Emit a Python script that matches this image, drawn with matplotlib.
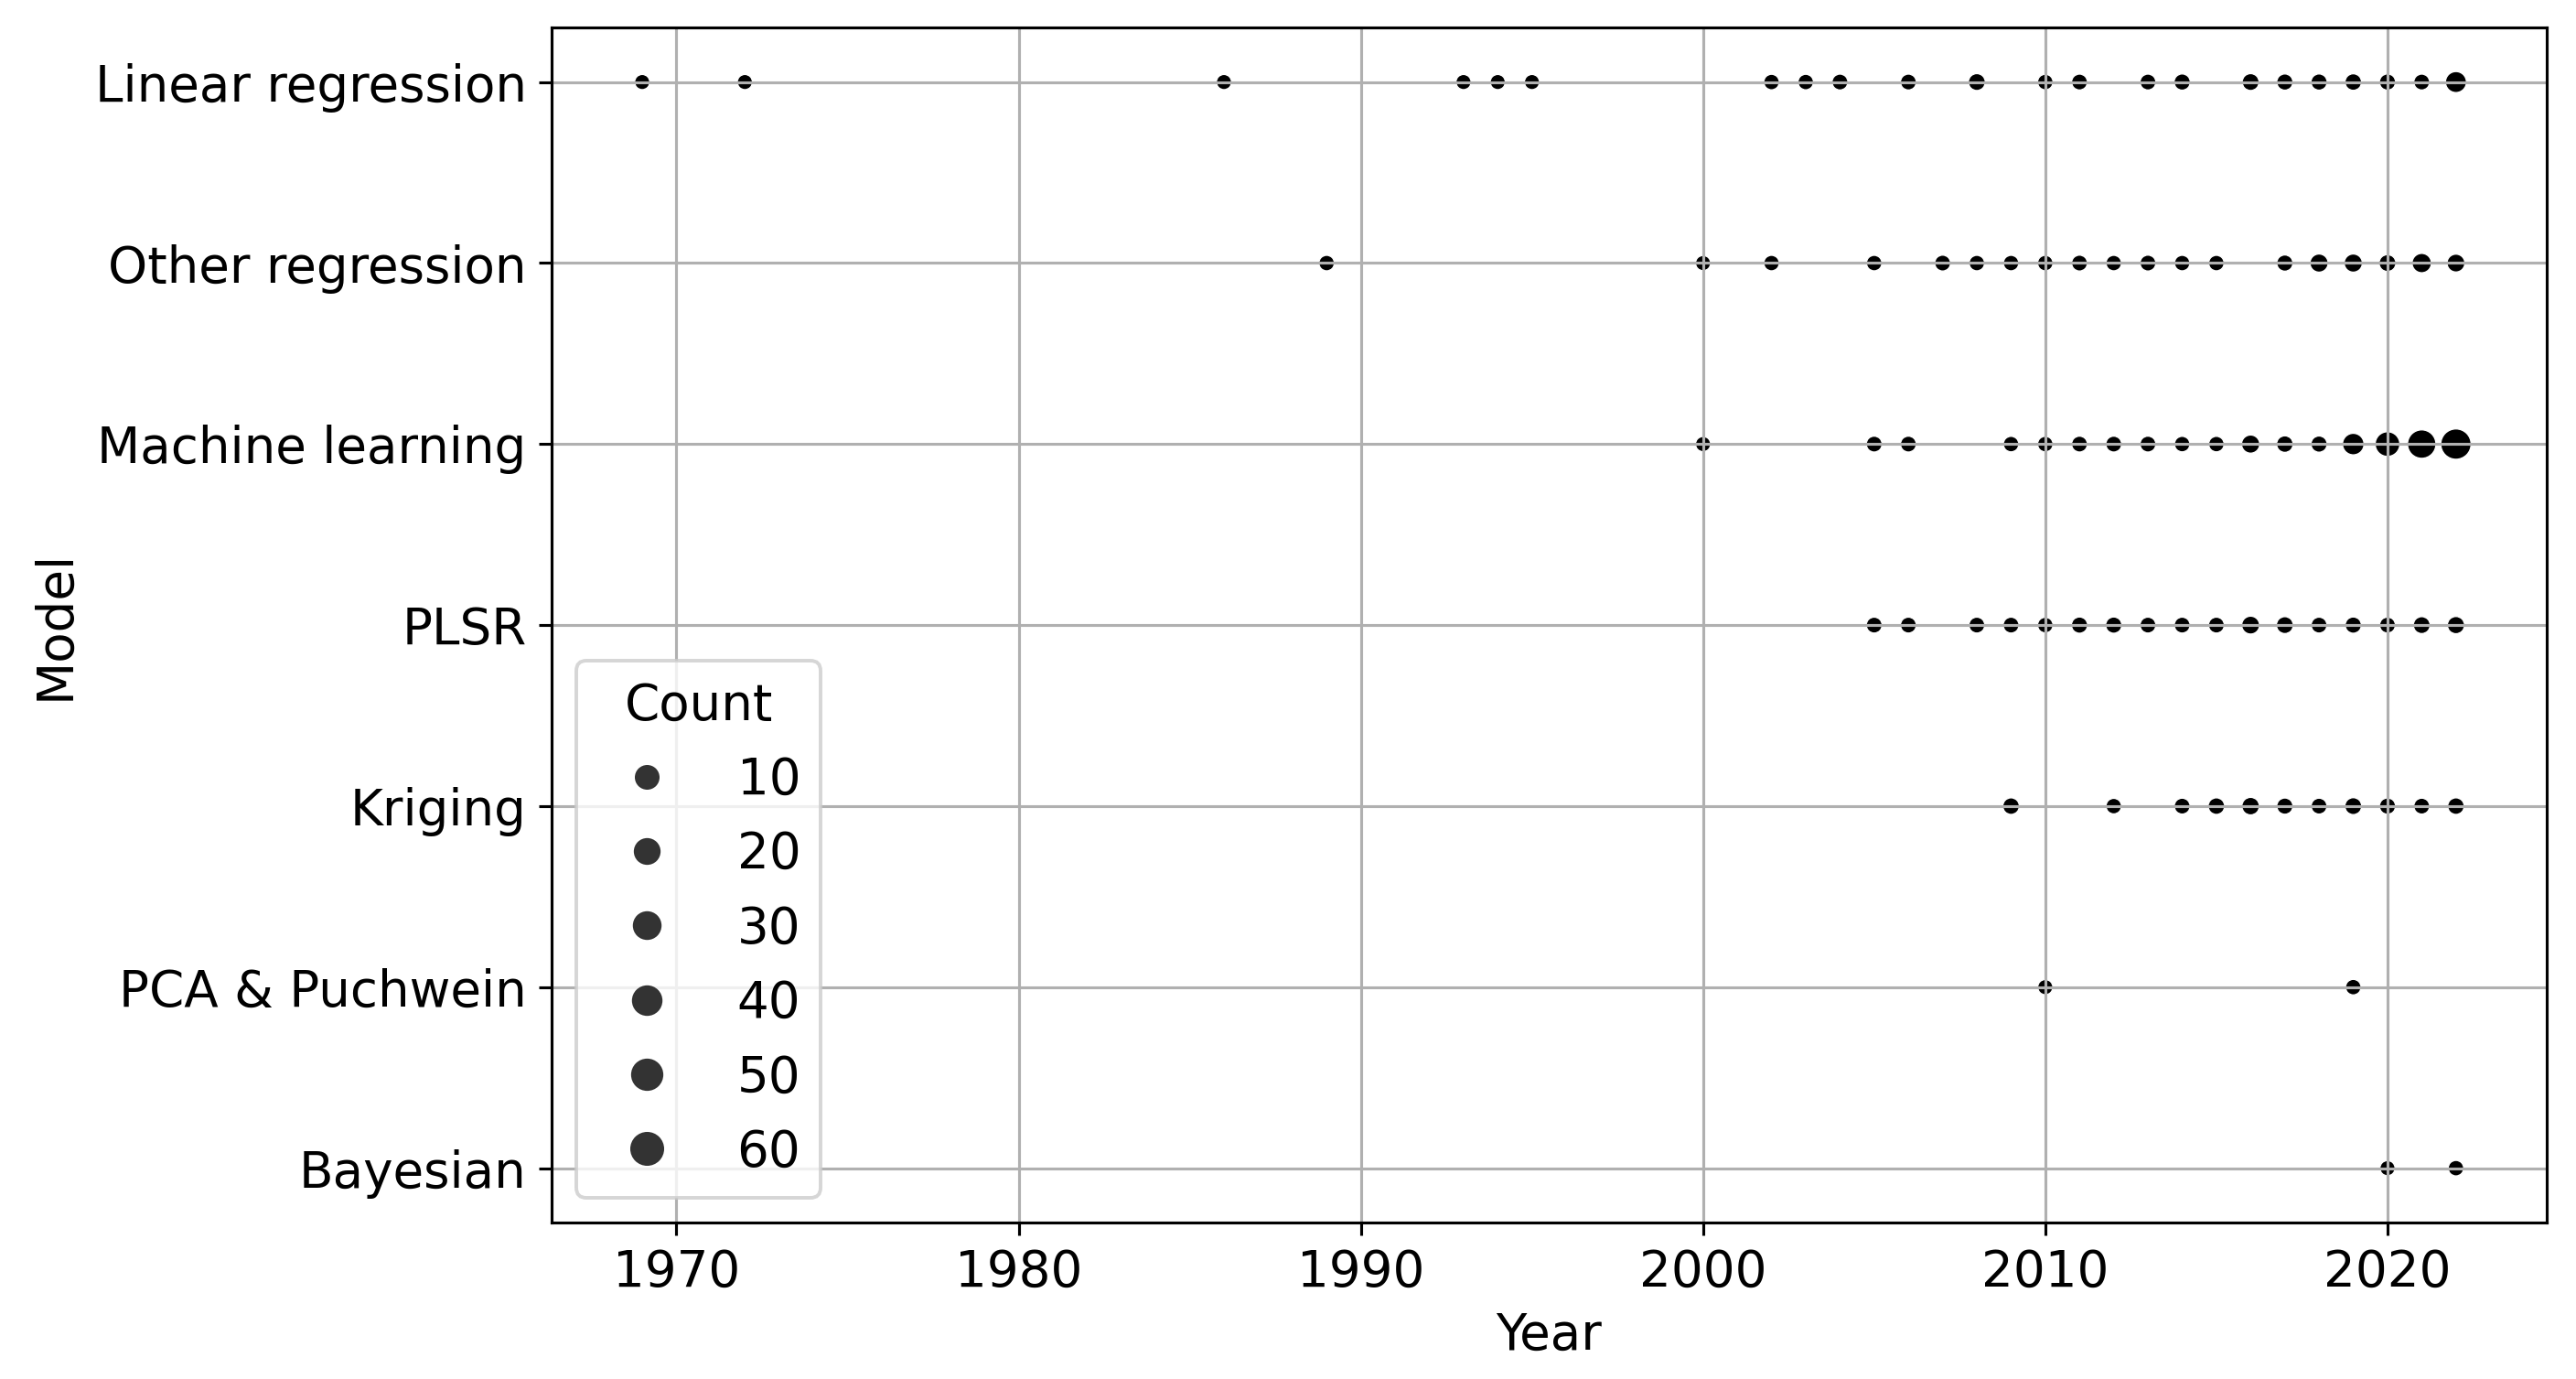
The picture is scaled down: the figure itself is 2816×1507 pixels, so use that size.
import numpy as np
import matplotlib
matplotlib.use("Agg")
import matplotlib.pyplot as plt
from matplotlib.lines import Line2D

plt.rcParams['font.family'] = ['DejaVu Sans']
plt.rcParams['font.size'] = 14

models = ["Linear regression", "Other regression", "Machine learning", "PLSR",
          "Kriging", "PCA & Puchwein", "Bayesian"]

lr_years = [1969, 1972, 1986, 1993, 1994, 1995, 2002, 2003, 2004, 2006, 2008,
            2010, 2011, 2013, 2014, 2016, 2017, 2018, 2019, 2020, 2021, 2022]
lr_counts = [1, 1, 1, 1, 1, 1, 2, 2, 3, 3, 6, 2, 3, 3, 4, 6, 4, 4, 5, 4, 3, 20]

or_years = [1989, 2000, 2002, 2005, 2007, 2008, 2009, 2010, 2011, 2012, 2013,
            2014, 2015, 2017, 2018, 2019, 2020, 2021, 2022]
or_counts = [2, 1, 2, 2, 3, 2, 2, 2, 3, 2, 3, 2, 2, 4, 10, 10, 6, 14, 9]

ml_years = [2000, 2005, 2006, 2009, 2010, 2011, 2012, 2013, 2014, 2015, 2016,
            2017, 2018, 2019, 2020, 2021, 2022]
ml_counts = [1, 3, 3, 2, 2, 3, 3, 3, 2, 2, 10, 5, 4, 22, 35, 53, 63]

plsr_years = [2005, 2006, 2008, 2009, 2010, 2011, 2012, 2013, 2014, 2015, 2016,
              2017, 2018, 2019, 2020, 2021, 2022]
plsr_counts = [3, 3, 3, 3, 2, 4, 4, 3, 3, 3, 9, 6, 3, 4, 3, 6, 7]

krig_years = [2009, 2012, 2014, 2015, 2016, 2017, 2018, 2019, 2020, 2021, 2022]
krig_counts = [5, 2, 3, 5, 8, 4, 3, 6, 4, 3, 5]

pca_years = [2010, 2019]
pca_counts = [1, 2]

bay_years = [2020, 2022]
bay_counts = [1, 2]

legend_counts = [10, 20, 30, 40, 50, 60]

all_years = [lr_years, or_years, ml_years, plsr_years, krig_years, pca_years, bay_years]
all_counts = [lr_counts, or_counts, ml_counts, plsr_counts, krig_counts, pca_counts, bay_counts]

xs, ys, cs = [], [], []
for m, yrs, cnt in zip(models, all_years, all_counts):
    xs += yrs
    ys += [m] * len(yrs)
    cs += cnt
cs = np.array(cs, dtype=float)
cmin, cmax = cs.min(), cs.max()

def size_of(c):
    return 18 + (np.asarray(c, dtype=float) - cmin) / (cmax - cmin) * 54

def legend_size_of(c):
    return 39.3 + 0.84 * np.asarray(c, dtype=float)

fig = plt.figure(figsize=(10, 5.352), dpi=281.6)
ax = fig.add_axes([0.2141, 0.1135, 0.7745, 0.8663])

ax.scatter(xs, ys, s=size_of(cs), c='black', edgecolors='white', linewidths=0.34)
ax.invert_yaxis()
ax.grid(True)
ax.set_xlabel("Year")
ax.set_ylabel("Model")
ax.set_xticks([1970, 1980, 1990, 2000, 2010, 2020])

handles = [Line2D([], [], linestyle='', marker='o', color='#333333',
                  markersize=np.sqrt(legend_size_of(c)), markeredgewidth=0)
           for c in legend_counts]
ax.legend(handles, [str(c) for c in legend_counts], title="Count", loc='lower left')

fig.savefig("out.png", dpi=281.6)
